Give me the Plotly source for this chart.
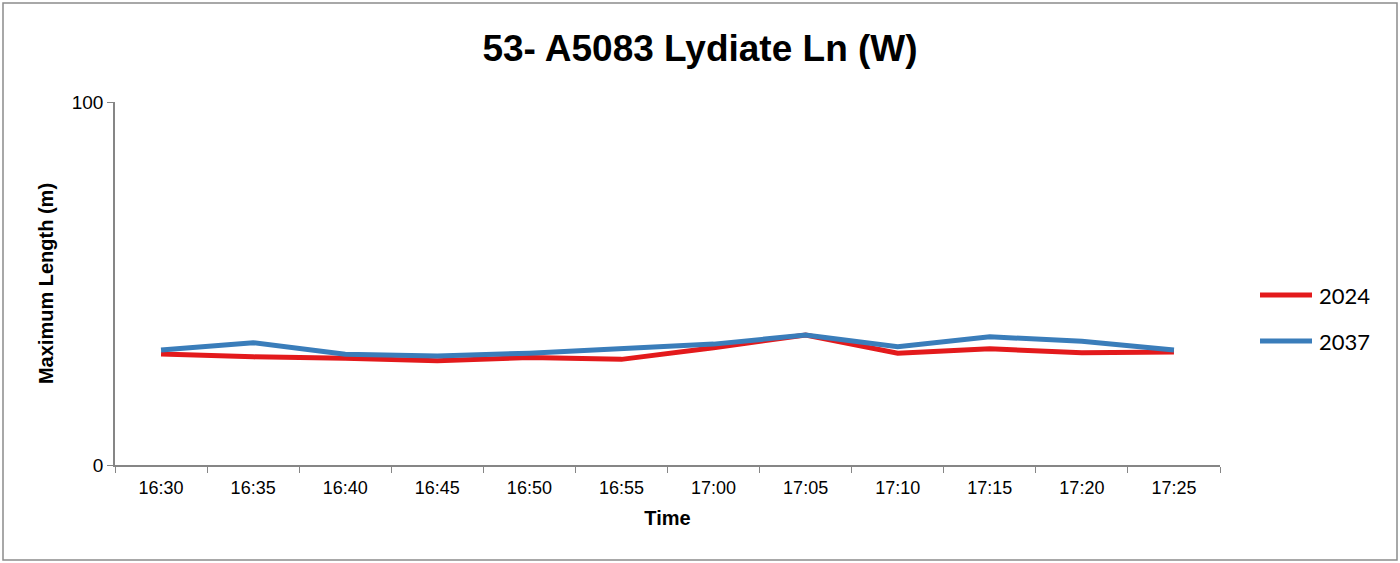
import plotly.graph_objects as go

times = ["16:30", "16:35", "16:40", "16:45", "16:50", "16:55",
         "17:00", "17:05", "17:10", "17:15", "17:20", "17:25"]
y2024 = [30.6, 29.8, 29.4, 28.7, 29.6, 29.1, 32.3, 35.8, 30.8, 32.0, 30.9, 31.1]
y2037 = [31.7, 33.7, 30.5, 30.0, 30.8, 32.0, 33.3, 35.8, 32.6, 35.3, 34.1, 31.7]
series_names = ["2024", "2037"]
series_colors = ["#E31A1C", "#3A7DBA"]

W, H = 1400, 563
L, R, T, B = 115, 1220, 102, 465
pw, ph = R - L, B - T

fig = go.Figure()
for name, ys, col in zip(series_names, [y2024, y2037], series_colors):
    fig.add_trace(go.Scatter(x=times, y=ys, name=name, mode="lines",
                             line=dict(color=col, width=5), showlegend=False))

fig.update_layout(
    width=W, height=H,
    margin=dict(l=L, r=W - R, t=T, b=H - B),
    paper_bgcolor="white", plot_bgcolor="white",
    font=dict(family="Arial, Liberation Sans", color="black"),
    title=dict(text="<b>53- A5083 Lydiate Ln (W)</b>", x=0.5, xanchor="center",
               y=1 - 48/H, yanchor="middle",
               font=dict(size=37, family="Arial, Liberation Sans", color="black")),
    xaxis=dict(type="category", range=[-0.5, len(times) - 0.5], tickson="boundaries",
               ticks="outside", ticklen=6, ticklabelstandoff=6,
               tickcolor="#868686", showline=True, linecolor="#868686", linewidth=1.5,
               showgrid=False, tickfont=dict(size=18),
               title=dict(text="<b>Time</b>", font=dict(size=20), standoff=14)),
    yaxis=dict(range=[0, 100], tickvals=[0, 100], ticks="outside", ticklen=6,
               tickcolor="#868686", showline=True, linecolor="#868686", linewidth=1.5,
               showgrid=True, gridcolor="#d9d9d9", zeroline=False, tickfont=dict(size=19),
               title=dict(text="<b>Maximum Length (m)</b>", font=dict(size=20), standoff=13)),
)

# manual legend (Excel-style long line samples)
leg_y = [295, 341]
for name, col, yy in zip(series_names, series_colors, leg_y):
    py = (B - yy) / ph
    fig.add_shape(type="line", xref="paper", yref="paper",
                  x0=(1260 - L) / pw, x1=(1312 - L) / pw, y0=py, y1=py,
                  line=dict(color=col, width=5))
    fig.add_annotation(xref="paper", yref="paper", x=(1317 - L) / pw, y=py,
                       xanchor="left", yanchor="middle", showarrow=False, text=name,
                       font=dict(size=22, family="Lato, Open Sans", color="black"))

fig.add_shape(type="rect", xref="paper", yref="paper",
              x0=(3 - L) / pw, x1=(1397 - L) / pw,
              y0=(B - 560) / ph, y1=(B - 3) / ph,
              line=dict(color="#8c8c8c", width=1.5), fillcolor="rgba(0,0,0,0)", layer="below")

fig.write_html("out.html", config={"displayModeBar": False},
               post_script="document.body.style.margin='0';document.body.style.overflow='hidden';")
